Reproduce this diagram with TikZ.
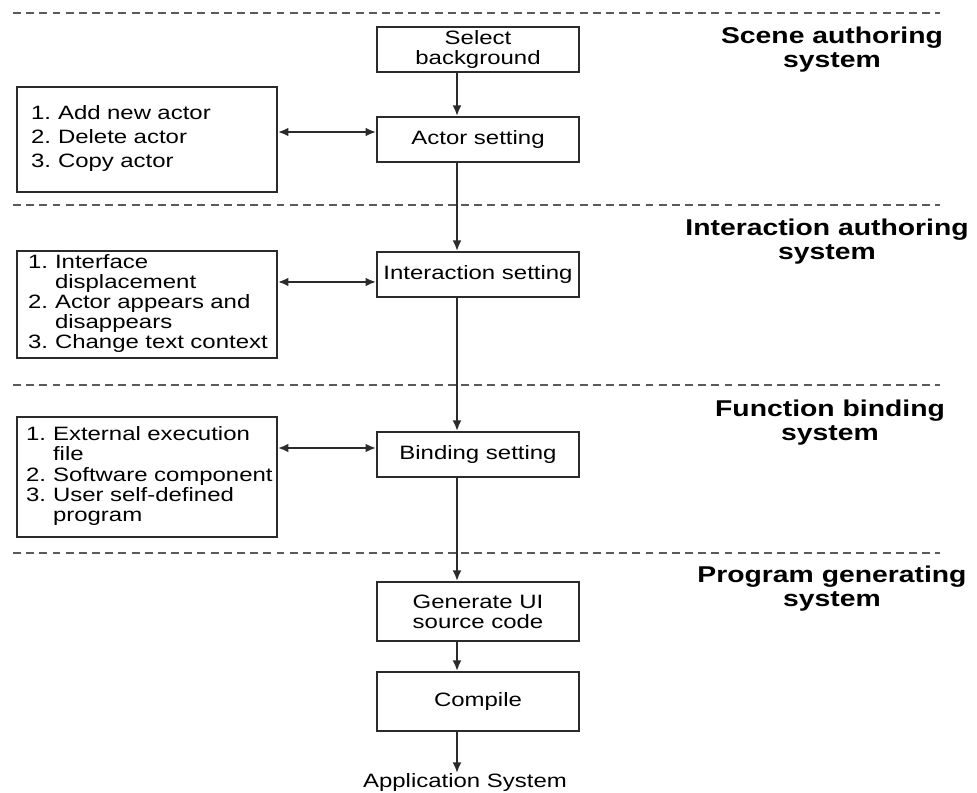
\documentclass[tikz,border=0pt]{standalone}
\usepackage{fontspec}
\setmainfont[FakeStretch=1.24]{Liberation Sans}
\usepackage{xcolor}
\usetikzlibrary{arrows.meta,positioning,calc}
\definecolor{ink}{HTML}{2B2B2B}
\definecolor{dashgray}{HTML}{5A5A5A}
\newcommand{\boxfont}{\fontsize{11}{11.4}\selectfont}
\newcommand{\titlefont}{\bfseries\fontsize{13}{14}\selectfont}
\tikzset{
    every picture/.style={line join=miter},
    stepbox/.style={draw=ink,line width=1.1pt,minimum width=4.04cm,minimum height=0.9cm,
      inner sep=2pt,align=center,font=\boxfont},
    listbox/.style={draw=ink,line width=1.1pt,text width=4.84cm,minimum height=2.1cm,
      inner xsep=0.18cm,inner ysep=2pt,align=left,font=\boxfont},
    layertitle/.style={font=\titlefont,align=center,text=black},
    layerline/.style={draw=dashgray,line width=1pt,dash pattern=on 4.5pt off 3pt},
    flowarrow/.style={-{Latex[length=6pt,width=5pt]},draw=ink,line width=1.1pt},
    twoway/.style={{Latex[length=6pt,width=5pt]}-{Latex[length=6pt,width=5pt]},
      draw=ink,line width=1.1pt}
}

\begin{document}
\begin{tikzpicture}[x=0.02cm,y=-0.02cm]
  \useasboundingbox (0,0) rectangle (977,793);
  \draw[layerline] (13,13) -- (940,13);
  \draw[layerline] (13,205) -- (940,205);
  \draw[layerline] (13,385) -- (940,385);
  \draw[layerline] (13,553) -- (940,553);

  \node[stepbox] (sel) at (478,49.5) {Select\\background};
  \node[stepbox] (act) at (478,139.5) {Actor setting};
  \node[stepbox] (inter) at (478,274.5) {Interaction setting};
  \node[stepbox] (bind) at (478,454.5) {Binding setting};
  \node[stepbox,minimum height=1.18cm] (gen) at (478,611.5) {Generate UI\\source code};
  \node[stepbox,minimum height=1.18cm] (comp) at (478,701.5) {Compile};
  \node[anchor=north,inner sep=0pt,font=\boxfont] (app) at (465,773) {Application System};

  \node[listbox] (actlist) at (147,139.5) {\begin{tabular}{@{\hspace{0.1cm}}l@{\hspace{4pt}}l@{}}
    1.&Add new actor\\[2pt] 2.&Delete actor\\[2pt] 3.&Copy actor\end{tabular}};
  \node[listbox] (intlist) at (147,304.5) {\begin{tabular}{@{\hspace{0.04cm}}l@{\hspace{4pt}}l@{}}
    1.&Interface\\ &displacement\\ 2.&Actor appears and\\ &disappears\\
    3.&Change text context\end{tabular}};
  \node[listbox,minimum height=2.4cm] (funlist) at (147,477) {\begin{tabular}{@{}l@{\hspace{4pt}}l@{}}
    1.&External execution\\ &file\\ 2.&Software component\\ 3.&User self-defined\\
    &program\end{tabular}};

  \node[layertitle] (scene) at (832,49.5) {Scene authoring\\system};
  \node[layertitle] (interact) at (827,241.5) {Interaction authoring\\system};
  \node[layertitle] (binding) at (830,422.5) {Function binding\\system};
  \node[layertitle] (program) at (832,588.5) {Program generating\\system};

  \coordinate (spine) at (457,0);
  \draw[flowarrow] (sel.south -| spine) -- (act.north -| spine);
  \draw[flowarrow] (act.south -| spine) -- (inter.north -| spine);
  \draw[flowarrow] (inter.south -| spine) -- (bind.north -| spine);
  \draw[flowarrow] (bind.south -| spine) -- (gen.north -| spine);
  \draw[flowarrow] (gen.south -| spine) -- (comp.north -| spine);
  \draw[flowarrow] (comp.south -| spine) -- (app.north -| spine);

  \draw[twoway] ([yshift=4.25pt]actlist.east) -- ([yshift=4.25pt]act.west);
  \draw[twoway] ($(inter.west -| intlist.east)+(0pt,-4.25pt)$) -- ($(inter.west)+(0pt,-4.25pt)$);
  \draw[twoway] ($(bind.west -| funlist.east)+(0pt,3.7pt)$) -- ($(bind.west)+(0pt,3.7pt)$);
\end{tikzpicture}
\end{document}
